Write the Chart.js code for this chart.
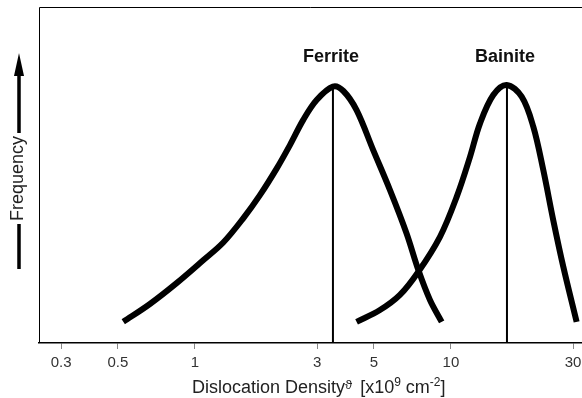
<!DOCTYPE html>
<html>
<head>
<meta charset="utf-8">
<script src="https://cdn.jsdelivr.net/npm/chart.js@4"></script>
<style>
  html, body { margin: 0; padding: 0; background: #fff; }
  #c { display: block; }
</style>
</head>
<body>
<canvas id="c" width="582" height="398"></canvas>
<script>
// ---- Data ----
const tickValues = [0.3, 0.5, 1, 3, 5, 10, 30];
const tickLabels = ['0.3', '0.5', '1', '3', '5', '10', '30'];

const ferriteX = [0.525, 0.667, 0.848, 1.077, 1.290, 1.544, 1.794, 2.085, 2.350, 2.649, 2.988, 3.46, 3.80, 4.28, 4.97, 5.78, 6.71, 7.46, 8.28, 9.20];
const ferriteY = [6.3, 11.6, 17.8, 24.6, 29.9, 37.1, 44.0, 51.9, 58.9, 66.4, 72.3, 76.3, 75.0, 69.3, 57.4, 45.5, 32.6, 21.7, 12.8, 6.3];

const bainiteX = [4.28, 5.28, 6.32, 7.46, 9.06, 10.53, 11.87, 12.98, 14.63, 16.51, 18.89, 20.97, 22.94, 25.09, 27.47, 30.97];
const bainiteY = [6.3, 9.8, 14.3, 21.2, 31.6, 43.5, 55.4, 65.3, 73.8, 76.8, 73.3, 64.4, 51.5, 36.6, 22.7, 6.3];

const peakNames = ['Ferrite', 'Bainite'];
const peakX = [3.46, 16.55];
const peakY = [76.3, 76.8];

const xMin = 0.246, xMax = 32.5;
const yMin = 0, yMax = 100;

const FONT = "'Liberation Sans', Arial, Helvetica, sans-serif";

const toPts = (xs, ys) => xs.map((x, i) => ({ x: x, y: ys[i] }));

const datasets = [
  {
    label: 'Ferrite',
    data: toPts(ferriteX, ferriteY),
    borderColor: '#000', borderWidth: 6, pointRadius: 0,
    tension: 0.35, borderCapStyle: 'butt', fill: false
  },
  {
    label: 'Bainite',
    data: toPts(bainiteX, bainiteY),
    borderColor: '#000', borderWidth: 6, pointRadius: 0,
    tension: 0.35, borderCapStyle: 'butt', fill: false
  }
];
peakX.forEach((px, i) => {
  datasets.push({
    label: peakNames[i] + ' peak',
    data: [{ x: px, y: yMin }, { x: px, y: peakY[i] }],
    borderColor: '#000', borderWidth: 2, pointRadius: 0, tension: 0, fill: false
  });
});

const decorPlugin = {
  id: 'decor',
  afterDraw(chart) {
    const ctx = chart.ctx;
    const a = chart.chartArea;
    const xs = chart.scales.x, ys = chart.scales.y;
    ctx.save();
    // frame: left, top (right side falls outside the picture)
    ctx.strokeStyle = '#000';
    ctx.lineWidth = 1;
    ctx.beginPath();
    ctx.moveTo(a.left + 0.5, a.bottom);
    ctx.lineTo(a.left + 0.5, a.top + 0.5);
    ctx.lineTo(chart.width, a.top + 0.5);
    ctx.stroke();

    // peak labels
    ctx.fillStyle = '#111';
    ctx.font = 'bold 18px ' + FONT;
    ctx.textAlign = 'center';
    ctx.textBaseline = 'middle';
    peakNames.forEach((n, i) => {
      const px = xs.getPixelForValue(peakX[i]);
      const py = ys.getPixelForValue(76.5);
      ctx.fillText(n, px - 2, py - 29);
    });

    // y-axis "Frequency" with arrow
    const ax = 19;
    ctx.strokeStyle = '#000';
    ctx.lineWidth = 3.5;
    ctx.beginPath();
    ctx.moveTo(ax, 269); ctx.lineTo(ax, 224);
    ctx.moveTo(ax, 133); ctx.lineTo(ax, 72);
    ctx.stroke();
    ctx.fillStyle = '#000';
    ctx.beginPath();
    ctx.moveTo(ax, 53); ctx.lineTo(ax - 5, 76); ctx.lineTo(ax + 5, 76);
    ctx.closePath(); ctx.fill();
    ctx.save();
    ctx.translate(ax - 1, 178.5);
    ctx.rotate(-Math.PI / 2);
    ctx.fillStyle = '#222';
    ctx.font = '18px ' + FONT;
    ctx.textAlign = 'center';
    ctx.textBaseline = 'middle';
    ctx.fillText('Frequency', 0, 0);
    ctx.restore();

    // x-axis title with superscripts
    const parts = [
      { t: 'Dislocation Density', s: 18, dy: 0 },
      { t: 'ϑ', s: 13, dy: -4 },
      { t: ' [x10', s: 18, dy: 0 },
      { t: '9', s: 12, dy: -7 },
      { t: ' cm', s: 18, dy: 0 },
      { t: '-2', s: 12, dy: -7 },
      { t: ']', s: 18, dy: 0 }
    ];
    parts.forEach(p => { ctx.font = p.s + 'px ' + FONT; p.w = ctx.measureText(p.t).width; });
    let cx = 192;
    const base = 393;
    ctx.fillStyle = '#222';
    ctx.textAlign = 'left';
    ctx.textBaseline = 'alphabetic';
    parts.forEach((p, i) => {
      ctx.font = p.s + 'px ' + FONT;
      ctx.fillText(p.t, cx, base + p.dy);
      cx += p.w + (i === 1 ? 3 : 0);
    });
    ctx.restore();
  }
};

new Chart(document.getElementById('c'), {
  type: 'line',
  data: { datasets: datasets },
  options: {
    responsive: false,
    animation: false,
    devicePixelRatio: 1,
    layout: { padding: { left: 39, top: 7, right: 0, bottom: 0 } },
    plugins: { legend: { display: false }, tooltip: { enabled: false } },
    scales: {
      x: {
        type: 'logarithmic',
        min: xMin, max: xMax,
        afterBuildTicks(scale) { scale.ticks = tickValues.map(v => ({ value: v })); },
        afterFit(scale) { scale.height = 55; scale.paddingLeft = 0; scale.paddingRight = 0; },
        ticks: {
          autoSkip: false, maxRotation: 0,
          color: '#333',
          font: { family: FONT, size: 15 },
          padding: 5,
          callback: (v) => { const i = tickValues.indexOf(v); return i >= 0 ? tickLabels[i] : ''; }
        },
        grid: { drawOnChartArea: false, drawTicks: true, tickLength: 6, color: '#888', lineWidth: 1 },
        border: { display: true, color: '#000', width: 1.5 }
      },
      y: {
        display: false,
        min: yMin, max: yMax
      }
    }
  },
  plugins: [decorPlugin]
});
</script>
</body>
</html>
